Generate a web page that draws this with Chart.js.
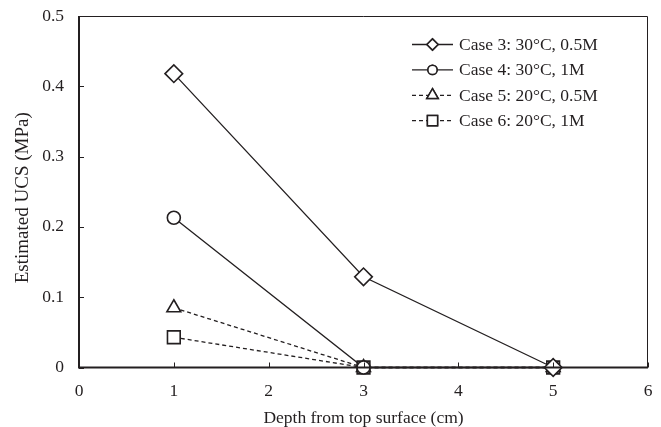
<!DOCTYPE html>
<html>
<head>
<meta charset="utf-8">
<script src="https://cdn.jsdelivr.net/npm/chart.js@4/dist/chart.umd.min.js"></script>
<style>
  html, body { margin: 0; padding: 0; background: #fff; }
  #wrap { width: 661px; height: 427px; }
</style>
</head>
<body>
<div id="wrap"><canvas id="graph"></canvas></div>
<script>
// values
const depths = [1, 3, 5];
const case3 = [0.418, 0.129, 0];
const case4 = [0.213, 0, 0];
const case5 = [0.085, 0, 0];
const case6 = [0.043, 0, 0];

const seriesNames = [
  "Case 3: 30°C, 0.5M",
  "Case 4: 30°C, 1M",
  "Case 5: 20°C, 0.5M",
  "Case 6: 20°C, 1M"
];

const xTickLabels = ["0", "1", "2", "3", "4", "5", "6"];
const yTickLabels = ["0", "0.1", "0.2", "0.3", "0.4", "0.5"];

const xTitle = "Depth from top surface (cm)";
const yTitle = "Estimated UCS (MPa)";

const ink = "#231f20";
const serif = "'Liberation Serif', 'Times New Roman', serif";

function points(ys) {
  return depths.map((x, i) => ({ x: x, y: ys[i] }));
}

function series(label, ys, style, radius, dashed) {
  return {
    label: label,
    data: points(ys),
    borderColor: ink,
    borderWidth: 1.3,
    borderDash: dashed ? [4, 3] : [],
    pointStyle: style,
    pointRadius: radius,
    pointBackgroundColor: "#fff",
    pointBorderColor: ink,
    pointBorderWidth: 1.6,
    fill: false,
    tension: 0,
    clip: false
  };
}

// marker sizes in the legend are a bit smaller than on the plot
const legendRadius = [5.6, 4.6, 6.6, 7.2];

// frame, inward tick marks, y title and the in-plot legend
const framePlugin = {
  id: "frame",
  afterDatasetsDraw(chart) {
    const ctx = chart.ctx;
    const a = chart.chartArea;
    const xs = chart.scales.x;
    const ys = chart.scales.y;
    ctx.save();
    ctx.strokeStyle = ink;

    // thin top/right
    ctx.lineWidth = 1;
    ctx.beginPath();
    ctx.moveTo(a.left, a.top + 0.5);
    ctx.lineTo(a.right - 0.5, a.top + 0.5);
    ctx.lineTo(a.right - 0.5, a.bottom);
    ctx.stroke();

    // thick left/bottom
    ctx.lineWidth = 2;
    ctx.beginPath();
    ctx.moveTo(a.left, a.top);
    ctx.lineTo(a.left, a.bottom);
    ctx.lineTo(a.right, a.bottom);
    ctx.stroke();

    ctx.lineWidth = 1;
    ctx.beginPath();
    xTickLabels.forEach((t) => {
      const px = Math.round(xs.getPixelForValue(Number(t))) + 0.5;
      ctx.moveTo(px, a.bottom);
      ctx.lineTo(px, a.bottom - 5);
    });
    yTickLabels.forEach((t) => {
      const py = Math.round(ys.getPixelForValue(Number(t))) + 0.5;
      ctx.moveTo(a.left, py);
      ctx.lineTo(a.left + 5, py);
    });
    ctx.stroke();

    // y title, sits a little below the middle of the plot
    ctx.save();
    ctx.translate(23, (a.top + a.bottom) / 2 + 6);
    ctx.rotate(-Math.PI / 2);
    ctx.font = "19px " + serif;
    ctx.textAlign = "center";
    ctx.textBaseline = "middle";
    ctx.fillStyle = ink;
    ctx.fillText(yTitle, 0, 0);
    ctx.restore();

    // legend
    const lx = 412, lw = 41, ty = 44.5, step = 25.4;
    ctx.font = "17.5px " + serif;
    ctx.textBaseline = "middle";
    ctx.fillStyle = ink;
    chart.data.datasets.forEach((ds, i) => {
      const y = ty + i * step;
      ctx.lineWidth = ds.borderWidth;
      ctx.setLineDash(ds.borderDash);
      ctx.beginPath();
      ctx.moveTo(lx, y);
      ctx.lineTo(lx + lw, y);
      ctx.stroke();
      ctx.setLineDash([]);
      ctx.fillStyle = "#fff";
      ctx.lineWidth = 1.5;
      Chart.helpers.drawPoint(ctx, {
        pointStyle: ds.pointStyle,
        radius: legendRadius[i],
        rotation: 0,
        borderWidth: 1.5
      }, lx + lw / 2, y);
      ctx.fill();
      ctx.stroke();
      ctx.fillStyle = ink;
      ctx.fillText(ds.label, lx + lw + 6, y + 1);
    });
    ctx.restore();
  }
};

const chart = new Chart(document.getElementById("graph"), {
  type: "line",
  data: {
    datasets: [
      series(seriesNames[0], case3, "rectRot", 8.8, false),
      series(seriesNames[1], case4, "circle", 6.5, false),
      series(seriesNames[2], case5, "triangle", 8, true),
      series(seriesNames[3], case6, "rect", 9, true)
    ]
  },
  options: {
    responsive: true,
    maintainAspectRatio: false,
    animation: false,
    layout: { padding: { top: 16, right: 13, left: 0, bottom: 0 } },
    plugins: {
      legend: { display: false },
      tooltip: { enabled: false }
    },
    scales: {
      x: {
        type: "linear",
        min: 0,
        max: 6,
        afterFit: (s) => {
          s.height = 59.5;
          s.paddingLeft = 0;
          s.paddingRight = 0;
        },
        grid: { display: false, drawTicks: false },
        border: { display: false },
        ticks: {
          stepSize: 1,
          padding: 13,
          color: ink,
          font: { family: serif, size: 17.5 },
          callback: (v) => xTickLabels[v]
        },
        title: {
          display: true,
          text: xTitle,
          color: ink,
          font: { family: serif, size: 17.5, lineHeight: 1 },
          padding: { top: 0, bottom: 0 }
        }
      },
      y: {
        min: 0,
        max: 0.5,
        afterFit: (s) => {
          s.width = 79;
          s.paddingTop = 0;
          s.paddingBottom = 0;
        },
        grid: { display: false, drawTicks: false },
        border: { display: false },
        ticks: {
          stepSize: 0.1,
          padding: 15,
          color: ink,
          font: { family: serif, size: 17.5 },
          callback: (v) => yTickLabels[Math.round(v * 10)]
        }
      }
    }
  },
  plugins: [framePlugin]
});
</script>
</body>
</html>
